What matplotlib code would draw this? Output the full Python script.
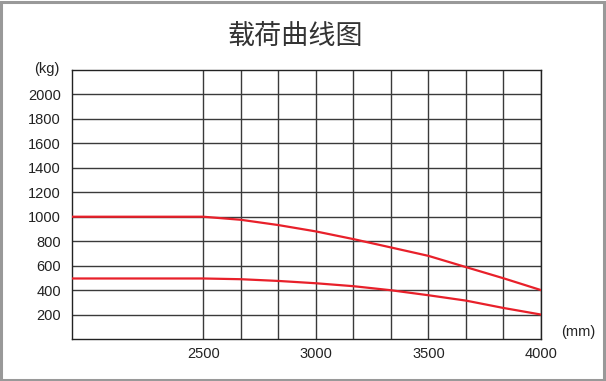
import matplotlib
matplotlib.use("Agg")
import matplotlib.pyplot as plt
from matplotlib.patches import Rectangle

plt.rcParams['font.family'] = ['Liberation Sans', 'DejaVu Sans']

# ---- data ----
title = "载荷曲线图"
load_centre = [1917, 2500, 2667, 2833, 3000, 3167, 3333, 3500, 3667, 3833, 4000]
capacity_upper = [1000, 1000, 975, 932, 880, 817, 749, 680, 588, 497, 400]
capacity_lower = [495, 495, 489, 475, 456, 432, 399, 358, 314, 254, 200]
x_ticks = [2500, 3000, 3500, 4000]
x_grid = [2500, 2667, 2833, 3000, 3167, 3333, 3500, 3667, 3833, 4000]
y_ticks = [200, 400, 600, 800, 1000, 1200, 1400, 1600, 1800, 2000]
x_unit = "(mm)"
y_unit = "(kg)"

fig = plt.figure(figsize=(6.06, 3.81), dpi=100)
fig.patch.set_facecolor('white')
# outer gray frame
fig.patches.append(Rectangle((0.002, 0.003), 0.995, 0.993, transform=fig.transFigure,
                             fill=False, edgecolor='#999999', linewidth=2.2))

ax = fig.add_axes([0.1188, 0.1102, 0.8927 - 0.1188, 0.8163 - 0.1102])
ax.set_xlim(1917, 4000)
ax.set_ylim(0, 2200)

grid_color = '#3a3a3a'
for y in y_ticks:
    ax.axhline(y, color=grid_color, linewidth=1.0, zorder=1)
for x in x_grid:
    ax.axvline(x, color=grid_color, linewidth=1.0, zorder=1)

red = '#e8202a'
ax.plot(load_centre, capacity_upper, color=red, linewidth=1.6, zorder=3)
ax.plot(load_centre, capacity_lower, color=red, linewidth=1.6, zorder=3)

ax.set_xticks(x_ticks)
ax.set_xticklabels([str(v) for v in x_ticks])
ax.set_yticks(y_ticks)
ax.set_yticklabels([str(v) for v in y_ticks])
ax.tick_params(axis='both', length=0, labelsize=10.5, colors='#222222')
ax.tick_params(axis='y', pad=8)
ax.tick_params(axis='x', pad=6)
for s in ax.spines.values():
    s.set_color('#222222')
    s.set_linewidth(1.0)

fig.text(0.487, 0.905, title, ha='center', va='center', fontsize=19.5,
         color='#333333', family=['Noto Sans CJK SC', 'DejaVu Sans'])
fig.text(0.078, 0.82, y_unit, ha='center', va='center', fontsize=10.5, color='#222222')
fig.text(0.954, 0.128, x_unit, ha='center', va='center', fontsize=10.5, color='#222222')

fig.savefig("out.png", dpi=100)
